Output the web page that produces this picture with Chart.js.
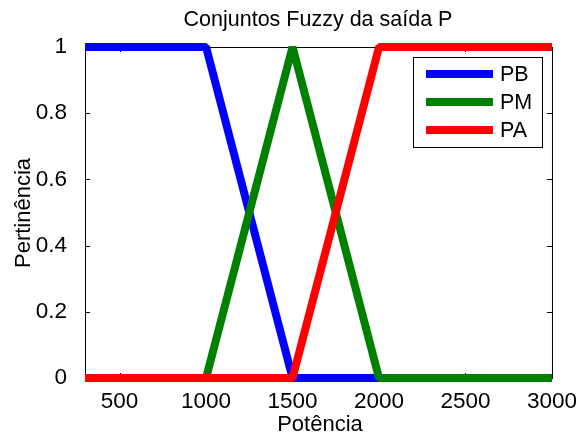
<!DOCTYPE html>
<html>
<head>
<meta charset="utf-8">
<script src="https://cdn.jsdelivr.net/npm/chart.js@4.4.0/dist/chart.umd.min.js"></script>
<style>
  html, body { margin: 0; padding: 0; background: #fff; }
  #wrap { width: 579px; height: 437px; }
</style>
</head>
<body>
<div id="wrap"><canvas id="fuzzyChart" width="579" height="437"></canvas></div>
<script>
// data
const potencia = [300, 1000, 1500, 2000, 3000];
const pb = [1, 1, 0, 0, 0];
const pm = [0, 0, 1, 0, 0];
const pa = [0, 0, 0, 1, 1];
const xTicks = [500, 1000, 1500, 2000, 2500, 3000];
const yTicks = [0, 0.2, 0.4, 0.6, 0.8, 1];

const FONT = 'Liberation Sans, Arial, Helvetica, sans-serif';

function pts(ys) {
  return potencia.map((x, i) => ({ x: x, y: ys[i] }));
}

// order: lower number is drawn on top (PA over PM over PB)
function ds(label, ys, color, order) {
  return {
    label: label,
    data: pts(ys),
    order: order,
    borderColor: color,
    backgroundColor: color,
    borderWidth: 8,
    borderCapStyle: 'butt',
    borderJoinStyle: 'bevel',
    pointRadius: 0,
    tension: 0,
    fill: false,
    clip: false
  };
}

// axes box, inner ticks, titles and legend like the matlab figure
const matlabLook = {
  id: 'matlabLook',
  beforeDatasetsDraw(chart) {
    const c = chart.ctx, a = chart.chartArea;
    const xs = chart.scales.x, ys = chart.scales.y;
    c.save();
    c.strokeStyle = '#000';
    c.lineWidth = 1;
    c.strokeRect(a.left + 0.5, a.top + 0.5, a.right - a.left, a.bottom - a.top);
    c.beginPath();
    xTicks.forEach(v => {
      const px = Math.round(xs.getPixelForValue(v)) + 0.5;
      c.moveTo(px, a.bottom); c.lineTo(px, a.bottom - 5);
      c.moveTo(px, a.top); c.lineTo(px, a.top + 5);
    });
    yTicks.forEach(v => {
      const py = Math.round(ys.getPixelForValue(v)) + 0.5;
      c.moveTo(a.left, py); c.lineTo(a.left + 5, py);
      c.moveTo(a.right, py); c.lineTo(a.right - 5, py);
    });
    c.stroke();
    c.restore();
  },
  afterDraw(chart) {
    const c = chart.ctx;
    c.save();
    c.fillStyle = '#000';
    c.textAlign = 'center';
    c.textBaseline = 'middle';
    c.font = '21.5px ' + FONT;
    c.fillText('Conjuntos Fuzzy da saída P', 318, 20);
    c.font = '22px ' + FONT;
    c.fillText('Potência', 320, 425);
    c.save();
    c.translate(24, 213);
    c.rotate(-Math.PI / 2);
    c.fillText('Pertinência', 0, 0);
    c.restore();

    // legend
    c.fillStyle = '#fff';
    c.fillRect(413, 57, 130, 91);
    c.strokeStyle = '#000';
    c.lineWidth = 1;
    c.strokeRect(413.5, 57.5, 129, 90);
    c.textAlign = 'left';
    c.font = '21.5px ' + FONT;
    chart.data.datasets.forEach((d, i) => {
      const y = 74 + i * 28;
      c.strokeStyle = d.borderColor;
      c.lineWidth = 8;
      c.lineCap = 'butt';
      c.beginPath();
      c.moveTo(426, y); c.lineTo(493, y);
      c.stroke();
      c.fillStyle = '#000';
      c.fillText(d.label, 500, y + 1);
    });
    c.restore();
  }
};

new Chart(document.getElementById('fuzzyChart'), {
  type: 'line',
  data: {
    datasets: [
      ds('PB', pb, '#0000ff', 3),
      ds('PM', pm, '#008000', 2),
      ds('PA', pa, '#ff0000', 1)
    ]
  },
  options: {
    responsive: false,
    animation: false,
    layout: { padding: { top: 47, right: 26, left: 0, bottom: 0 } },
    plugins: { legend: { display: false }, tooltip: { enabled: false } },
    scales: {
      x: {
        type: 'linear',
        min: 300,
        max: 3000,
        afterBuildTicks: s => { s.ticks = xTicks.map(v => ({ value: v })); },
        afterFit: s => { s.height = 59; },
        grid: { display: false },
        border: { display: false },
        ticks: {
          color: '#000',
          font: { family: FONT, size: 22.5 },
          padding: 2,
          maxRotation: 0,
          autoSkip: false,
          callback: v => String(v)
        }
      },
      y: {
        min: 0,
        max: 1,
        afterBuildTicks: s => { s.ticks = yTicks.map(v => ({ value: v })); },
        afterFit: s => { s.width = 85; },
        grid: { display: false },
        border: { display: false },
        ticks: {
          color: '#000',
          font: { family: FONT, size: 22.5 },
          padding: 10,
          autoSkip: false,
          callback: v => String(Math.round(v * 10) / 10)
        }
      }
    }
  },
  plugins: [matlabLook]
});
</script>
</body>
</html>
